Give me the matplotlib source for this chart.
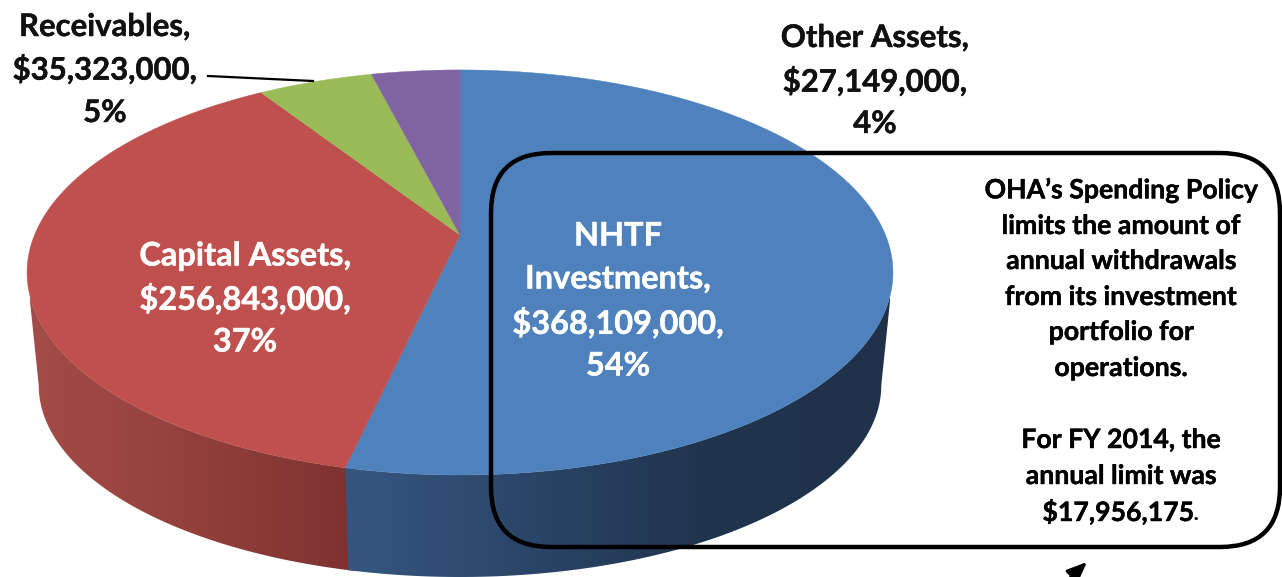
import numpy as np
import matplotlib
matplotlib.use("Agg")
import matplotlib.pyplot as plt
import matplotlib.patheffects as pe
from matplotlib.colors import LinearSegmentedColormap
from matplotlib.patches import FancyBboxPatch, Polygon

# slices, clockwise from 12 o'clock
names = ['NHTF Investments', 'Capital Assets', 'Receivables', 'Other Assets']
values = [368109000, 256843000, 35323000, 27149000]
colors = ['#4F81BD', '#C0504D', '#9BBB59', '#8064A2']

nhtf_label = ['NHTF', 'Investments,', '$368,109,000,', '54%']
capital_label = ['Capital Assets,', '$256,843,000,', '37%']
receivables_label = ['Receivables,', '$35,323,000,', '5%']
other_label = ['Other Assets,', '$27,149,000,', '4%']
note_lines = ['OHA\u2019s Spending Policy', 'limits the amount of', 'annual withdrawals',
              'from its investment', 'portfolio for', 'operations.',
              'For FY 2014, the', 'annual limit was']

plt.rcParams['font.family'] = ['Lato', 'DejaVu Sans']

# perspective circle -> image pixels
K = 0.185
CX = 460


def project(theta, y0, a, b):
    u, v = np.sin(theta), np.cos(theta)
    return CX + b * u / (1 + K * v), y0 - a * v / (1 + K * v)


def top(theta):
    return project(theta, 235, 195.6, 425.5)


def bottom(theta):
    return project(theta, 350, 185, 414)


def wall(ax, t0, t1, cmap, x0, x1):
    t = np.linspace(t0, t1, 200)
    xt, yt = top(t)
    xb, yb = bottom(t)
    verts = np.r_[np.c_[xt, yt], np.c_[xb, yb][::-1]]
    poly = Polygon(verts, closed=True, fc='none', ec='none')
    ax.add_patch(poly)
    grad = np.linspace(0, 1, 256).reshape(1, -1)
    im = ax.imshow(grad, cmap=cmap, extent=(x0, x1, 577, 0), aspect='auto', zorder=1)
    im.set_clip_path(poly)


fig, ax = plt.subplots(figsize=(12.82, 5.77), dpi=100)
fig.subplots_adjust(0, 0, 1, 1)

fractions = np.array(values) / sum(values)
edges = np.r_[0, np.cumsum(fractions)] * 2 * np.pi

# side walls (only the front of the pie shows)
tangent_r = np.arccos(-K)
tangent_l = 2 * np.pi - tangent_r
blue_wall = LinearSegmentedColormap.from_list('b', ['#35577F', '#2B4568', '#20344D', '#1F3249'])
red_wall = LinearSegmentedColormap.from_list('r', ['#A34C48', '#93403C', '#7D3230'])
wall(ax, edges[1] - 0.02, tangent_l, red_wall, 30, 356)
wall(ax, tangent_r, edges[1], blue_wall, 345, 890)

# top surface
for i in range(len(values)):
    t = np.linspace(edges[i], edges[i + 1], 200)
    x, y = top(t)
    ax.fill(np.r_[CX, x], np.r_[235, y], color=colors[i], lw=0.3, zorder=2)


def put_text(x, y, s, color, size, weight='bold', ha='center'):
    txt = ax.text(x, y, s, color=color, fontsize=size, fontweight=weight,
                  ha=ha, va='center', zorder=5)
    if weight == 'bold':
        # Lato bold is a bit thin next to the original face
        txt.set_path_effects([pe.withStroke(linewidth=0.3, foreground=color)])


def label_lines(lines, x, ys, color, size=23.4):
    for line, y in zip(lines, ys):
        put_text(x, y, line, color, size)


label_lines(nhtf_label, 618, [236, 279, 323, 366], 'white')
label_lines(capital_label, 245, [256, 299, 342], 'white')
label_lines(receivables_label, 105, [27, 70, 113], '#111111', size=22.4)
label_lines(other_label, 875, [38, 82, 124], '#111111', size=22.4)
label_lines(note_lines, 1121, [190, 226, 261, 297, 332, 368, 440, 476], 'black', size=19.2)
put_text(1118, 512, '$17,956,175', 'black', 19.2)
put_text(1193, 512, '.', 'black', 19.2, weight='normal', ha='left')

# leader line
ax.plot([208, 313], [76, 81], color='black', lw=1.6, zorder=4)

# note box
box = FancyBboxPatch((491, 153), 789, 394, boxstyle='round,pad=0,rounding_size=60',
                     fc='none', ec='black', lw=3.2, zorder=4)
ax.add_patch(box)

# arrow running off the bottom edge
ax.annotate('', xy=(1087, 562), xytext=(1055, 592),
            arrowprops=dict(arrowstyle='-|>,head_length=0.6,head_width=0.25', color='black',
                            lw=2.2, shrinkA=0, shrinkB=0, mutation_scale=20),
            annotation_clip=False, zorder=4)

ax.set_xlim(0, 1282)
ax.set_ylim(577, 0)
ax.axis('off')
fig.savefig('out.png', dpi=100)
